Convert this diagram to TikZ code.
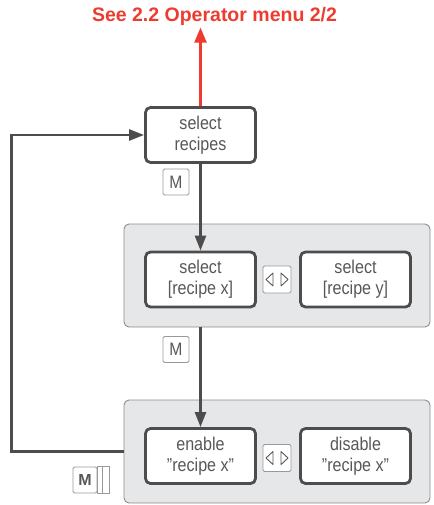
\documentclass[tikz,border=0pt]{standalone}
\usepackage{fontspec}
\setmainfont{Liberation Sans}
\newfontfamily\boxfont{Liberation Sans}[FakeStretch=0.87]
\usetikzlibrary{arrows.meta}

\definecolor{linegray}{HTML}{4D4D4D}
\definecolor{textgray}{HTML}{585858}
\definecolor{panelfill}{HTML}{E6E7E8}
\definecolor{panelline}{HTML}{8C8C8C}
\definecolor{keyline}{HTML}{999999}
\definecolor{menured}{HTML}{EE3B2F}

\begin{document}
\begin{tikzpicture}[x=1pt,y=-1pt,
    menubox/.style={draw=linegray, line width=2.8pt, fill=white, rounded corners=5pt,
      minimum width=110pt, minimum height=55pt, inner sep=0pt, align=center,
      text=textgray, font=\boxfont\fontsize{18.5}{21}\selectfont},
    panel/.style={draw=panelline, line width=0.9pt, fill=panelfill, rounded corners=5pt,
      minimum width=306pt, minimum height=103pt, inner sep=0pt},
    keybox/.style={draw=keyline, line width=0.8pt, fill=white, rounded corners=1.5pt,
      inner sep=0pt, text=textgray},
    glyph/.style={draw=textgray, line width=0.9pt, line join=round},
    flow/.style={draw=linegray, line width=2.4pt, -{Triangle[length=15pt,width=11pt]}},
    upflow/.style={draw=menured, line width=2.2pt, -{Triangle[length=15pt,width=12pt]}}]
    \useasboundingbox (0,0) rectangle (433,505);
    % title and top menu
    \node (title) at (214.5,22) [anchor=base, text=menured,
        font=\fontsize{19.5}{22}\selectfont\bfseries] {See 2.2 Operator menu 2/2};
    \node (recipes) at (200.5,135) [menubox] {select\\recipes};
    \node (mkey1) at (176,182) [keybox, minimum size=26pt, font=\boxfont\fontsize{18}{18}\selectfont] {M};
    % first panel
    \node (panel1) at (277,275.5) [panel] {};
    \node (selx) at (200.5,279.5) [menubox] {select\\{[recipe x]}};
    \node (sely) at (355.5,279.5) [menubox] {select\\{[recipe y]}};
    \node (arrkey1) at (277,279.5) [keybox, minimum width=28pt, minimum height=27pt] {};
    \node (mkey2) at (176,349.5) [keybox, minimum size=26pt, font=\boxfont\fontsize{18}{18}\selectfont] {M};
    % second panel
    \node (panel2) at (277,451.5) [panel] {};
    \node (enable) at (200.5,456) [menubox] {enable\\”recipe x”};
    \node (disable) at (355.5,456) [menubox] {disable\\”recipe x”};
    \node (arrkey2) at (277,458) [keybox, minimum width=28pt, minimum height=27pt] {};
    \node (mlong) at (85,480) [keybox, minimum width=24pt, minimum height=26pt,
        font=\fontsize{16}{16}\selectfont\bfseries] {M};
    \draw[keyline, line width=0.8pt] (mlong.north east) rectangle ([xshift=12pt]mlong.south east);
    \draw[keyline, line width=0.8pt] ([xshift=5pt]mlong.north east) -- ([xshift=5pt]mlong.south east);
    % left/right glyphs
    \foreach \k in {arrkey1,arrkey2} {
        \draw[glyph] ([shift={(-4,-6.5)}]\k.center) -- ([shift={(-11,0)}]\k.center)
            -- ([shift={(-4,6.5)}]\k.center) -- cycle;
        \draw[glyph] ([shift={(4,-6.5)}]\k.center) -- ([shift={(11,0)}]\k.center)
            -- ([shift={(4,6.5)}]\k.center) -- cycle;
    }
    % connectors
    \draw[upflow] (recipes.north) -- ([yshift=2pt]recipes.north |- title.south);
    \draw[flow] (recipes.south) -- (selx.north);
    \draw[flow] (panel1.south -| selx) -- (enable.north);
    \draw[flow] (panel2.west) -- ++(-112,0) |- (recipes.west);
\end{tikzpicture}
\end{document}
